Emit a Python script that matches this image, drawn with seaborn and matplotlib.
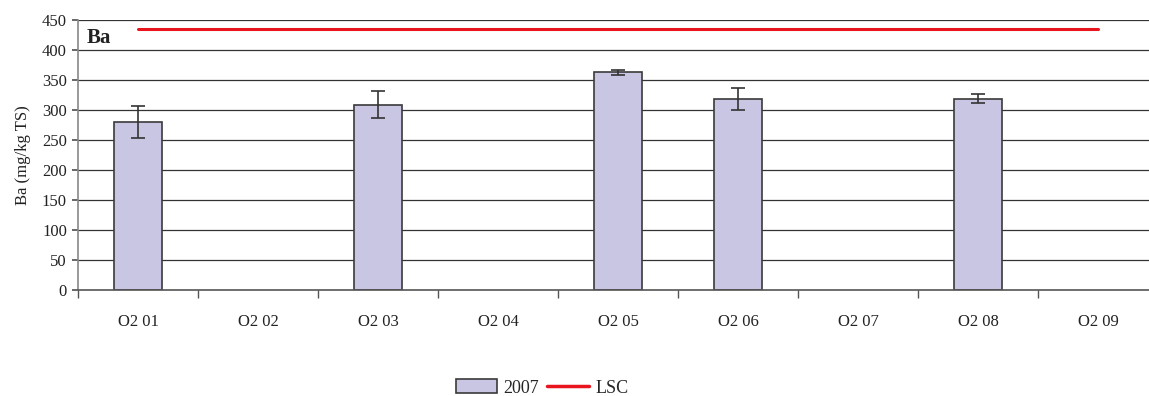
import numpy as np
import pandas as pd
import matplotlib
matplotlib.use("Agg")
import matplotlib.pyplot as plt
import seaborn as sns
from matplotlib.patches import Patch
from matplotlib.lines import Line2D

categories = ["O2 01", "O2 02", "O2 03", "O2 04", "O2 05", "O2 06", "O2 07", "O2 08", "O2 09"]
values_2007 = [280, np.nan, 309, np.nan, 363, 318, np.nan, 319, np.nan]
errors_2007 = [26, np.nan, 22, np.nan, 4, 18, np.nan, 7, np.nan]
lsc_value = 435
yticks = [0, 50, 100, 150, 200, 250, 300, 350, 400, 450]

sns.set_theme(style="white")
plt.rcParams['font.family'] = ['Liberation Serif', 'DejaVu Serif']

fig = plt.figure(figsize=(11.49, 3.96), dpi=100)
ax = fig.add_axes([78/1149, 1 - 290/396, 1080/1149, 270/396])

df = pd.DataFrame({"cat": categories, "val": values_2007})
sns.barplot(data=df, x="cat", y="val", order=categories, ax=ax,
            color="#C8C6E2", width=0.4, edgecolor="#3a3a3a", linewidth=1.2,
            saturation=1, errorbar=None)

pos = np.arange(len(categories))
ax.errorbar(pos, values_2007, yerr=errors_2007, fmt="none", ecolor="#333333",
            elinewidth=1.2, capsize=5, capthick=1.2, zorder=3)

ax.plot(pos, [lsc_value] * len(categories), color="#E8141E", linewidth=2.2, zorder=4)

ax.set_xlim(-0.5, len(categories) - 0.5)
ax.set_ylim(0, 450)
ax.set_yticks(yticks)
ax.set_yticklabels([str(v) for v in yticks], fontsize=12, color="#222222")
ax.set_xticks(pos)
ax.set_xticklabels(categories, fontsize=12, color="#222222")
ax.set_xlabel("")
ax.set_ylabel("Ba (mg/kg TS)", fontsize=12, color="#222222", labelpad=8)

for y in yticks[1:]:
    ax.axhline(y, color="#333333", linewidth=0.9, zorder=0)

for s in ["top", "right"]:
    ax.spines[s].set_visible(False)
ax.spines["left"].set_color("#888888")
ax.spines["bottom"].set_color("#555555")
ax.spines["left"].set_linewidth(1.2)
ax.spines["bottom"].set_linewidth(1.2)

ax.tick_params(axis="y", which="major", left=True, length=4, color="#555555", pad=4)
ax.tick_params(axis="x", which="major", bottom=False, pad=11)
ax.set_xticks(np.arange(len(categories) + 1) - 0.5, minor=True)
ax.tick_params(axis="x", which="minor", bottom=True, length=6, color="#555555")

ax.text(0.008, 0.97, "Ba", transform=ax.transAxes, fontsize=15, fontweight="bold",
        va="top", ha="left", color="#222222")

handles = [Patch(facecolor="#C8C6E2", edgecolor="#3a3a3a", linewidth=1.2, label="2007"),
           Line2D([0], [0], color="#E8141E", linewidth=2.5, label="LSC")]
fig.legend(handles=handles, loc="center", bbox_to_anchor=(542/1149, 1 - 388/396),
           ncol=2, frameon=False, fontsize=13, handlelength=2.3, handletextpad=0.35,
           columnspacing=0.45, handleheight=0.8, borderpad=0.1)

fig.savefig("out.png", dpi=100)
